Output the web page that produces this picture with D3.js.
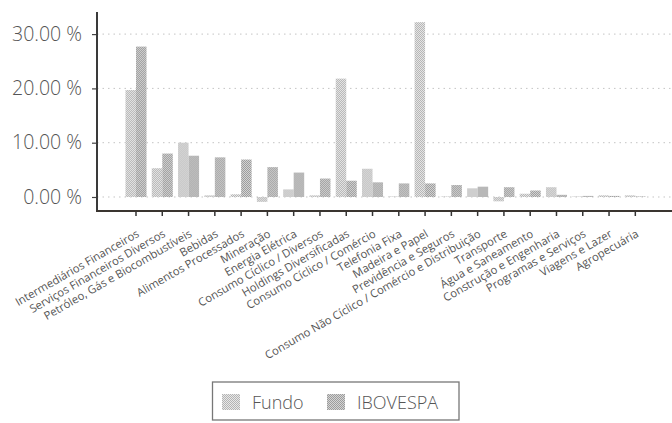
<!DOCTYPE html>
<html><head><meta charset="utf-8">
<script src="https://cdn.jsdelivr.net/npm/d3@7"></script>
<style>html,body{margin:0;padding:0;background:#fff;overflow:hidden}</style>
</head><body>
<svg id="chart" width="672" height="423"></svg>
<script>
const categories = ["Intermediários Financeiros","Serviços Financeiros Diversos","Petróleo, Gás e Biocombustíveis","Bebidas","Alimentos Processados","Mineração","Energia Elétrica","Consumo Cíclico / Diversos","Holdings Diversificadas","Consumo Cíclico / Comércio","Telefonia Fixa","Madeira e Papel","Previdência e Seguros","Consumo Não Cíclico / Comércio e Distribuição","Transporte","Água e Saneamento","Construção e Engenharia","Programas e Serviços","Viagens e Lazer","Agropecuária"];
const seriesNames = ["Fundo","IBOVESPA"];
const fundo = [19.7,5.3,10.0,0.3,0.5,-0.9,1.4,0.3,21.8,5.2,0.1,32.2,0.1,1.6,-0.8,0.6,1.8,0.1,0.3,0.3];
const ibovespa = [27.7,8.0,7.6,7.3,6.9,5.5,4.5,3.4,3.0,2.7,2.5,2.5,2.2,1.9,1.8,1.2,0.4,0.2,0.2,0.1];
const yTicks = [0,10,20,30];

const svg = d3.select("#chart");
const defs = svg.append("defs");
function pat(id, a, b){
  const p = defs.append("pattern").attr("id",id).attr("patternUnits","userSpaceOnUse").attr("width",2).attr("height",2);
  p.append("rect").attr("width",2).attr("height",2).attr("fill",a);
  p.append("rect").attr("width",1).attr("height",1).attr("fill",b);
  p.append("rect").attr("x",1).attr("y",1).attr("width",1).attr("height",1).attr("fill",b);
}
pat("pFundo","#e8e8e8","#b4b4b4");
pat("pIbov","#d4d4d4","#9c9c9c");
const fills = {"Fundo":"url(#pFundo)","IBOVESPA":"url(#pIbov)"};

const axisX = 97, axisBottom = 211, axisTop = 12;
const x = d3.scaleBand().domain(categories).range([122.86, 648.46]).padding(0);
const x1 = d3.scaleBand().domain(seriesNames).range([0, x.bandwidth()]).paddingInner(0).paddingOuter(0.25);
const y = d3.scaleLinear().domain([-2.58, 34.07]).range([axisBottom, axisTop]);

// gridlines
svg.append("g").selectAll("line").data(yTicks).join("line")
  .attr("x1", axisX).attr("x2", 672)
  .attr("y1", d=>y(d)).attr("y2", d=>y(d))
  .attr("stroke","#c4c4c4").attr("stroke-width",1).attr("stroke-dasharray","1.5,4");

// bars
const data = categories.map((c,i)=>({c, vals:[{s:"Fundo",v:fundo[i]},{s:"IBOVESPA",v:ibovespa[i]}]}));
const g = svg.append("g");
g.selectAll("g").data(data).join("g")
  .attr("transform", d=>`translate(${x(d.c)},0)`)
  .selectAll("rect").data(d=>d.vals).join("rect")
  .attr("x", d=>x1(d.s)).attr("width", x1.bandwidth())
  .attr("y", d=>y(Math.max(0,d.v)))
  .attr("height", d=>Math.abs(y(d.v)-y(0)))
  .attr("fill", d=>fills[d.s]);

// y axis
const yAxis = d3.axisLeft(y).tickValues(yTicks).tickSize(5).tickFormat(d=>d3.format(".2f")(d)+" %");
const ya = svg.append("g").attr("transform",`translate(${axisX},0)`).call(yAxis);
ya.select(".domain").remove();
ya.selectAll(".tick line").attr("stroke","#444").attr("stroke-width",1.2);
ya.selectAll(".tick text").attr("x",-15).attr("font-family","Open Sans").attr("font-weight",300)
  .attr("font-size","19.5px").attr("fill","#555");
svg.append("line").attr("x1",axisX).attr("x2",axisX).attr("y1",axisTop).attr("y2",axisBottom+1)
  .attr("stroke","#3a3a3a").attr("stroke-width",2);

// x axis
const xAxis = d3.axisBottom(x).tickSize(5).tickSizeOuter(0);
const xa = svg.append("g").attr("transform",`translate(0,${axisBottom})`).call(xAxis);
xa.select(".domain").remove();
xa.selectAll(".tick line").attr("stroke","#333").attr("stroke-width",1.5);
xa.selectAll(".tick text")
  .attr("font-family","Open Sans").attr("font-size","11.3px").attr("fill","#555")
  .attr("text-anchor","end").attr("dy",null).attr("y",null)
  .attr("transform","translate(4,25) rotate(-30)");
svg.append("line").attr("x1",axisX-1).attr("x2",672).attr("y1",axisBottom).attr("y2",axisBottom)
  .attr("stroke","#3a3530").attr("stroke-width",2);

// legend
const lg = svg.append("g");
lg.append("rect").attr("x",212.5).attr("y",382).attr("width",246.5).attr("height",38)
  .attr("fill","none").attr("stroke","#777").attr("stroke-width",1.3);
const items = [{s:"Fundo",sx:222,tx:252},{s:"IBOVESPA",sx:327,tx:357}];
items.forEach(it=>{
  lg.append("rect").attr("x",it.sx).attr("y",394).attr("width",18).attr("height",16).attr("fill",fills[it.s]);
  lg.append("text").attr("x",it.tx).attr("y",409).attr("font-family","Open Sans").attr("font-weight",300)
    .attr("font-size","18px").attr("fill","#555").text(it.s);
});
</script>
</body></html>
